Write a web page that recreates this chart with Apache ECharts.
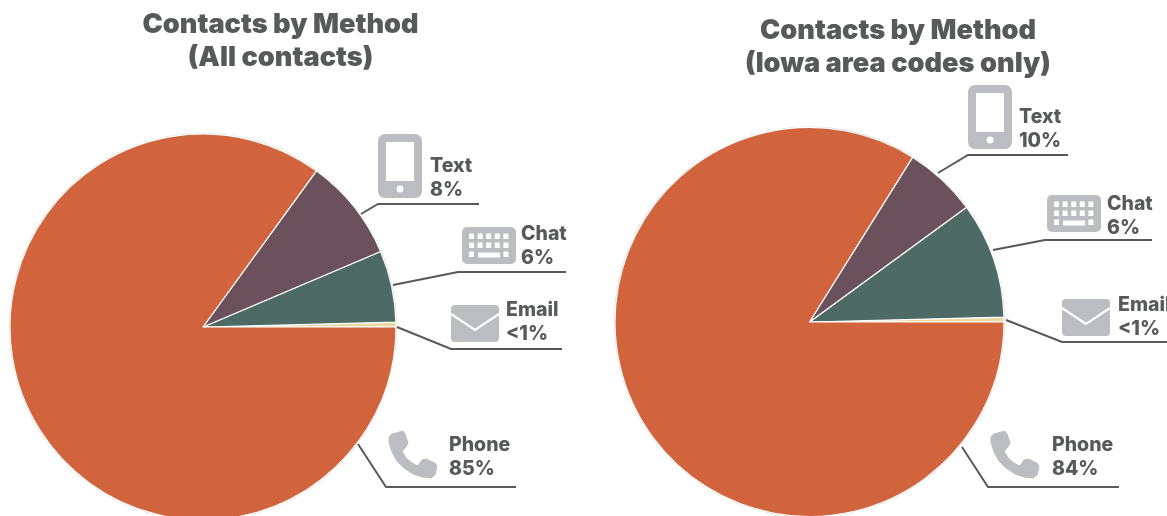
<!DOCTYPE html>
<html><head><meta charset="utf-8">
<style>html,body{margin:0;padding:0;background:#fff}#c{width:1167px;height:516px}</style>
<script src="https://cdn.jsdelivr.net/npm/echarts@6/dist/echarts.min.js"></script>
</head><body><div id="c"></div>
<script>
const categories = ['Email', 'Chat', 'Text', 'Phone'];
const sliceColors = ['#EBD9A0', '#4E6A64', '#6B515B', '#D2643D'];
// slice sizes as drawn in the picture
const allValues  = [0.4, 6.0, 8.6, 85.0];
const iowaValues = [0.4, 9.65, 6.05, 83.9];
// percentages as printed next to each slice
const allLabels  = ['<1%', '6%', '8%', '85%'];
const iowaLabels = ['<1%', '6%', '10%', '84%'];
const titles = ['Contacts by Method\n(All contacts)', 'Contacts by Method\n(Iowa area codes only)'];

const FONT = 'Inter';
const INK = '#58595B';
const GREY = '#BCBDC0';
const LINE = '#58595B';

function pie(values, labels, center, radius, labelPos) {
  return {
    type: 'pie', center, radius, startAngle: 0, clockwise: false, silent: true,
    animation: false, z: 2, avoidLabelOverlap: false, minShowLabelAngle: 0,
    itemStyle: { borderColor: '#fff', borderWidth: 1.2 },
    labelLine: { show: false },
    label: {
      show: true, position: 'outside', color: INK, fontFamily: FONT, fontWeight: 800,
      fontSize: 19.5, lineHeight: 24, align: 'left', verticalAlign: 'top', bleedMargin: 0,
      formatter: p => p.name + '\n' + labels[p.dataIndex]
    },
    labelLayout: p => ({ x: labelPos[p.dataIndex][0], y: labelPos[p.dataIndex][1], align: 'left', verticalAlign: 'top', hideOverlap: false, moveOverlap: false }),
    data: categories.map((n, i) => ({ name: n, value: values[i], itemStyle: { color: sliceColors[i] } }))
  };
}

function leader(points) {
  return { type: 'polyline', z: 5, silent: true, shape: { points }, style: { stroke: LINE, lineWidth: 2, fill: null } };
}

function phoneIcon(x, y) {
  return { type: 'group', x, y, silent: true, children: [
    { type: 'rect', shape: { x: 0, y: 0, width: 44, height: 64, r: 7 }, style: { fill: GREY } },
    { type: 'rect', shape: { x: 8, y: 8, width: 28, height: 39 }, style: { fill: '#fff' } },
    { type: 'circle', shape: { cx: 22, cy: 55, r: 3.5 }, style: { fill: '#fff' } }
  ]};
}

function keyboardIcon(x, y) {
  const kids = [{ type: 'rect', shape: { x: 0, y: 0, width: 54, height: 37, r: 5 }, style: { fill: GREY } }];
  for (let r = 0; r < 3; r++) for (let c = 0; c < 5; c++) {
    if (r === 2 && c > 0 && c < 4) continue;
    kids.push({ type: 'rect', shape: { x: 7 + c * 8.6, y: 6.5 + r * 9, width: 5, height: 5.5 }, style: { fill: '#fff' } });
  }
  kids.push({ type: 'rect', shape: { x: 16, y: 25.5, width: 22, height: 5 }, style: { fill: '#fff' } });
  return { type: 'group', x, y, silent: true, children: kids };
}

function mailIcon(x, y) {
  return { type: 'group', x, y, silent: true, children: [
    { type: 'rect', shape: { x: 0, y: 0, width: 48, height: 37, r: 4 }, style: { fill: GREY } },
    { type: 'polyline', shape: { points: [[0, 9], [24, 25], [48, 9]] }, style: { stroke: '#fff', lineWidth: 2.2, fill: null } }
  ]};
}

const handsetOutline = [[3,3],[14,0],[16,3],[19,12],[17,16],[13,20],[17,27],[23,32],[29,35],[33,29],[37,28],[46,32],[48,35],[46,44],[42,47],[33,46],[24,43],[15,37],[8,30],[3,21],[0,11],[0,6]];
function handsetIcon(x, y) {
  return { type: 'polygon', x, y, silent: true, shape: { points: handsetOutline }, style: { fill: GREY, stroke: GREY, lineWidth: 1, lineJoin: 'round' } };
}

function ring(cx, cy, r) {
  return { type: 'circle', z: 1, silent: true, shape: { cx, cy, r }, style: { fill: null, stroke: '#C9C9C9', lineWidth: 1 } };
}

const chart = echarts.init(document.getElementById('c'), null, { renderer: 'canvas' });
chart.setOption({
  backgroundColor: '#fff',
  animation: false,
  title: [
    { text: titles[0], left: 275.5, top: 3, textAlign: 'center', textStyle: { color: INK, fontFamily: FONT, fontWeight: 900, fontSize: 27.2, lineHeight: 33 } },
    { text: titles[1], left: 893, top: 9, textAlign: 'center', textStyle: { color: INK, fontFamily: FONT, fontWeight: 900, fontSize: 27.2, lineHeight: 33 } }
  ],
  series: [
    pie(allValues, allLabels, [203, 327], 193, [[506, 298], [521, 222], [430, 154], [449, 433]]),
    pie(iowaValues, iowaLabels, [809.5, 322], 194.5, [[1118, 293], [1107, 192], [1019, 105], [1052, 433]])
  ],
  graphic: [
    ring(203, 327, 193.5), ring(809.5, 322, 195),
    leader([[361, 214], [378, 204], [479, 204]]),
    leader([[393, 285], [458, 272], [566, 272]]),
    leader([[397, 327], [451, 349], [562, 349]]),
    leader([[358, 444], [386, 487], [516, 487]]),
    leader([[938, 173], [968, 155], [1068, 155]]),
    leader([[993, 250], [1045, 240], [1152, 240]]),
    leader([[1006, 320], [1062, 342], [1167, 342]]),
    leader([[962, 447], [988, 487], [1119, 487]]),
    phoneIcon(378, 134), keyboardIcon(462, 227), mailIcon(451, 305), handsetIcon(389, 431),
    phoneIcon(968, 85), keyboardIcon(1047, 195), mailIcon(1062, 299), handsetIcon(991, 431)
  ]
});
</script></body></html>
